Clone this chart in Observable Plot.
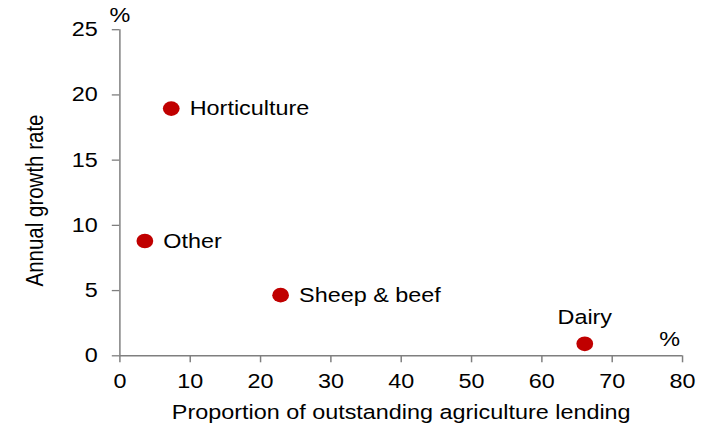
<!DOCTYPE html>
<html>
<head>
<meta charset="utf-8">
<script src="https://cdn.jsdelivr.net/npm/d3@7"></script>
<script src="https://cdn.jsdelivr.net/npm/@observablehq/plot@0.6"></script>
<style>
  body { margin: 0; background: #fff; }
  svg { font-family: "Liberation Sans", Arial, sans-serif; display: block; }
</style>
</head>
<body>
<div id="chart"></div>
<script>
const sectors = ["Horticulture", "Other", "Sheep & beef", "Dairy"];
const lendingShare = [7.3, 3.55, 22.85, 66.1];
const growthRate = [18.95, 8.8, 4.65, 0.92];
const labelSide = ["right", "right", "right", "top"];
const xTicks = [0, 10, 20, 30, 40, 50, 60, 70, 80];
const yTicks = [0, 5, 10, 15, 20, 25];
const xLabel = "Proportion of outstanding agriculture lending";
const yLabel = "Annual growth rate";
const unit = "%";

const data = sectors.map((s, i) => ({sector: s, x: lendingShare[i], y: growthRate[i], side: labelSide[i]}));
const axisColor = "#7f7f7f";
const red = "#c00000";

// The reference is drawn horizontally stretched; draw at a narrower width and stretch the SVG.
const outW = 713, outH = 427;
const stretch = 1.1408;
const W = outW / stretch;
const fs = 20.5;

const chart = Plot.plot({
  width: W,
  height: outH,
  marginLeft: 104.6,
  marginRight: 27.2,
  marginTop: 29.2,
  marginBottom: 71.7,
  style: {fontFamily: "Liberation Sans, Arial, sans-serif", fontSize: fs + "px", background: "#fff", color: "#000"},
  x: {domain: [0, 80]},
  y: {domain: [0, 25]},
  marks: [
    Plot.axisX({ticks: xTicks, tickSize: 7, tickPadding: 10.5, fontSize: fs, stroke: axisColor, strokeWidth: 1.3, label: null}),
    Plot.axisY({ticks: yTicks, tickSize: 6.6, tickPadding: 12.7, fontSize: fs, stroke: axisColor, strokeWidth: 1.3, label: null}),
    Plot.ruleX([0], {stroke: axisColor, strokeWidth: 1.3}),
    Plot.ruleY([0], {stroke: axisColor, strokeWidth: 1.5}),
    Plot.dot(data, {x: "x", y: "y", r: 7.35, fill: red, stroke: null}),
    Plot.text(data.filter(d => d.side === "right"), {x: "x", y: "y", text: "sector", textAnchor: "start", dx: 16.2, fontSize: fs, fill: "#000"}),
    Plot.text(data.filter(d => d.side === "top"), {x: "x", y: "y", text: "sector", textAnchor: "middle", dy: -26, fontSize: fs, fill: "#000"}),
    Plot.text([unit], {frameAnchor: "top-left", text: d => d, textAnchor: "middle", lineAnchor: "middle", dy: -14, fontSize: fs, fill: "#000"}),
    Plot.text([unit], {frameAnchor: "bottom-right", text: d => d, textAnchor: "middle", lineAnchor: "middle", dx: -11.4, dy: -16, fontSize: fs, fill: "#000"}),
    Plot.text([xLabel], {frameAnchor: "bottom", text: d => d, textAnchor: "middle", lineAnchor: "middle", dy: 56.5, fontSize: fs, fill: "#000"}),
    Plot.text([yLabel], {frameAnchor: "left", text: d => d, textAnchor: "middle", lineAnchor: "middle", rotate: -90, dx: -73.9, dy: 7.75, fontSize: fs, fill: "#000"})
  ]
});
chart.setAttribute("width", outW);
chart.setAttribute("height", outH);
chart.setAttribute("preserveAspectRatio", "none");
chart.style.width = outW + "px";
chart.style.height = outH + "px";
chart.style.maxWidth = "none";
document.getElementById("chart").appendChild(chart);
</script>
</body>
</html>
